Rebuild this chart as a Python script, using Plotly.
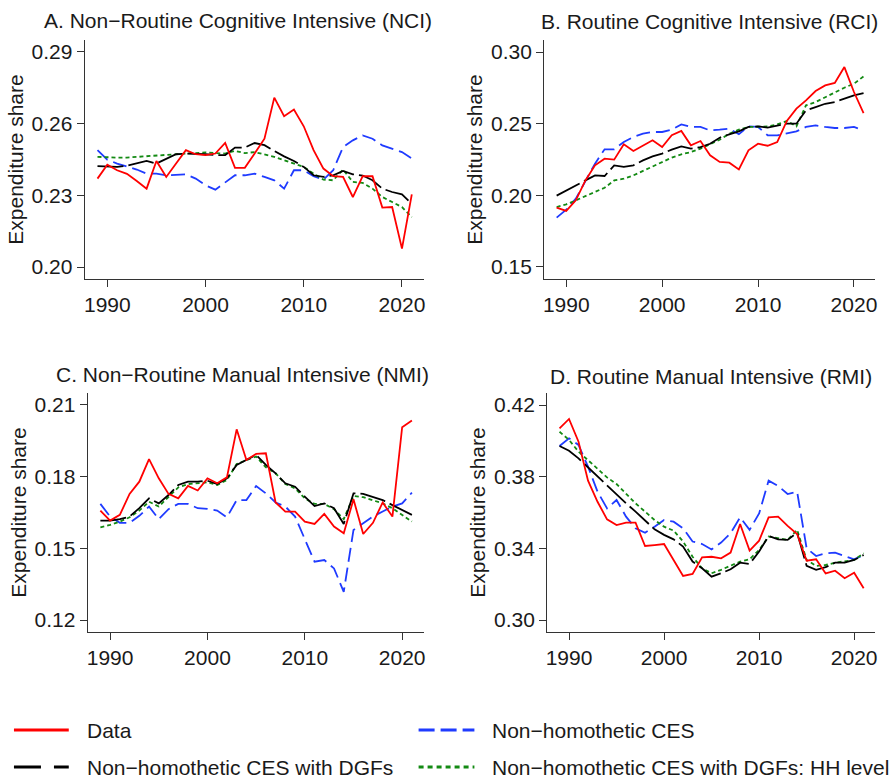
import plotly.graph_objects as go

# ---- years ----
years = list(range(1989, 2022))

# ---- A. NCI ----
nci_data = [0.237, 0.2428, 0.2405, 0.239, 0.236, 0.2328, 0.2444, 0.2377, 0.2433, 0.2489,
            0.2472, 0.2468, 0.2475, 0.2519, 0.2415, 0.2415, 0.2475, 0.2537, 0.2709, 0.2631,
            0.2659, 0.2589, 0.2489, 0.2412, 0.238, 0.2377, 0.2293, 0.238, 0.238, 0.2249,
            0.2251, 0.2077, 0.2304]
nci_ces = [0.2489, 0.2449, 0.2433, 0.2422, 0.2408, 0.2391, 0.2391, 0.2384, 0.2387, 0.2388,
           0.237, 0.2342, 0.2324, 0.2356, 0.2384, 0.2384, 0.2391, 0.2377, 0.2363, 0.2328,
           0.2405, 0.2405, 0.238, 0.2366, 0.2405, 0.2502, 0.253, 0.2551, 0.2537, 0.2509,
           0.2495, 0.2481, 0.2454]
nci_dgf = [0.2422, 0.2419, 0.2419, 0.2424, 0.2433, 0.2444, 0.2433, 0.2454, 0.2472, 0.2475,
           0.2475, 0.2472, 0.2469, 0.2468, 0.25, 0.25, 0.2519, 0.251, 0.2486, 0.2463,
           0.2444, 0.2419, 0.2384, 0.2377, 0.2384, 0.2402, 0.2388, 0.2383, 0.2363, 0.2328,
           0.2314, 0.2304, 0.2265]
nci_hh = [0.2461, 0.2458, 0.2458, 0.2458, 0.2461, 0.2463, 0.2468, 0.2472, 0.2475, 0.2475,
          0.2477, 0.248, 0.2477, 0.2475, 0.2486, 0.2477, 0.2481, 0.2472, 0.2461, 0.2447,
          0.2433, 0.2419, 0.2391, 0.2366, 0.2363, 0.2408, 0.2356, 0.2352, 0.2328, 0.2293,
          0.2272, 0.2251, 0.2209]

# ---- B. RCI ----
rci_data = [0.1914, 0.1891, 0.1965, 0.2104, 0.2209, 0.2256, 0.2249, 0.2356, 0.2309, 0.2349,
            0.2384, 0.2337, 0.2419, 0.2449, 0.2349, 0.2379, 0.2279, 0.2233, 0.2228, 0.2181,
            0.2314, 0.236, 0.2346, 0.2372, 0.2519, 0.2605, 0.2663, 0.2728, 0.2767, 0.2784,
            0.2895, 0.2721, 0.2574]
rci_ces = [0.1844, 0.19, 0.1977, 0.2104, 0.2221, 0.2321, 0.2321, 0.2372, 0.2407, 0.243,
           0.2442, 0.2442, 0.2458, 0.2495, 0.2477, 0.2477, 0.2453, 0.2458, 0.2465, 0.2426,
           0.2481, 0.2477, 0.2419, 0.2419, 0.243, 0.2446, 0.2477, 0.2488, 0.2477, 0.247,
           0.247, 0.2477, 0.2453]
rci_dgf = [0.1998, 0.2035, 0.207, 0.2104, 0.2139, 0.2135, 0.2209, 0.2198, 0.2209, 0.2244,
           0.2272, 0.2291, 0.2319, 0.2342, 0.2326, 0.2337, 0.236, 0.2402, 0.2426, 0.2446,
           0.2477, 0.2481, 0.2472, 0.2488, 0.25, 0.25, 0.2593, 0.2616, 0.2639, 0.2651,
           0.2674, 0.2698, 0.2714]
rci_hh = [0.1918, 0.1937, 0.1965, 0.1993, 0.2023, 0.2053, 0.2104, 0.2116, 0.2139, 0.217,
          0.2202, 0.2233, 0.2263, 0.2286, 0.2302, 0.2326, 0.2356, 0.2388, 0.243, 0.2458,
          0.2477, 0.2477, 0.2481, 0.2495, 0.2519, 0.2481, 0.2628, 0.2651, 0.2686, 0.2721,
          0.2751, 0.2779, 0.283]

# ---- C. NMI ----
nmi_data = [0.1658, 0.1616, 0.164, 0.1728, 0.1779, 0.1873, 0.1793, 0.1728, 0.1709, 0.1761,
            0.1742, 0.1793, 0.1772, 0.1797, 0.1998, 0.187, 0.1895, 0.1898, 0.1692, 0.1654,
            0.1654, 0.1612, 0.1602, 0.1644, 0.1591, 0.1563, 0.1705, 0.156, 0.1607, 0.1692,
            0.1633, 0.2007, 0.2035]
nmi_ces = [0.1686, 0.1633, 0.1607, 0.1607, 0.1636, 0.1675, 0.1622, 0.1664, 0.1686, 0.1686,
           0.1668, 0.1665, 0.1658, 0.163, 0.1702, 0.1702, 0.1761, 0.173, 0.1692, 0.1675,
           0.1633, 0.1535, 0.1444, 0.1451, 0.1416, 0.1318, 0.1577, 0.1605, 0.1633, 0.1654,
           0.1675, 0.1688, 0.1733]
nmi_dgf = [0.1616, 0.1616, 0.1622, 0.1633, 0.1668, 0.1709, 0.1688, 0.1723, 0.1765, 0.1779,
           0.1779, 0.1783, 0.1769, 0.1793, 0.1849, 0.187, 0.1891, 0.1849, 0.1814, 0.1772,
           0.1758, 0.1716, 0.1677, 0.1688, 0.1668, 0.1602, 0.173, 0.1728, 0.1716, 0.1702,
           0.1681, 0.166, 0.164]
nmi_hh = [0.1588, 0.1598, 0.1612, 0.163, 0.1658, 0.1695, 0.1675, 0.1716, 0.1755, 0.1769,
          0.1772, 0.1776, 0.1765, 0.1786, 0.1853, 0.187, 0.1884, 0.1839, 0.1814, 0.1769,
          0.1751, 0.1709, 0.1686, 0.1686, 0.1664, 0.1622, 0.1719, 0.1714, 0.1702, 0.1688,
          0.1668, 0.164, 0.1612]

# ---- D. RMI ----
rmi_data = [0.407, 0.4122, 0.3995, 0.3778, 0.366, 0.3562, 0.353, 0.3543, 0.3543, 0.3413,
            0.3418, 0.3424, 0.3335, 0.3246, 0.3257, 0.335, 0.3353, 0.3344, 0.3376, 0.3536,
            0.3387, 0.3443, 0.3573, 0.3577, 0.3525, 0.348, 0.3331, 0.3339, 0.326, 0.3275,
            0.3233, 0.3264, 0.3177]
rmi_ces = [0.3971, 0.4014, 0.3977, 0.3856, 0.3716, 0.3623, 0.367, 0.3577, 0.3512, 0.3487,
           0.3521, 0.3558, 0.3549, 0.3512, 0.3438, 0.3424, 0.3394, 0.3432, 0.3484, 0.3573,
           0.3503, 0.3595, 0.3778, 0.3748, 0.3703, 0.3716, 0.34, 0.3357, 0.3372, 0.3376,
           0.3357, 0.3339, 0.3363]
rmi_dgf = [0.3971, 0.3945, 0.3902, 0.3852, 0.38, 0.3748, 0.3698, 0.3651, 0.3605, 0.3558,
           0.3506, 0.3475, 0.345, 0.341, 0.3326, 0.3289, 0.3242, 0.3261, 0.3283, 0.332,
           0.3313, 0.3382, 0.3469, 0.345, 0.3447, 0.3487, 0.3302, 0.328, 0.3295, 0.332,
           0.332, 0.3335, 0.3363]
rmi_hh = [0.4051, 0.4005, 0.394, 0.3893, 0.3847, 0.3796, 0.3759, 0.3703, 0.3651, 0.3605,
          0.3558, 0.3521, 0.3499, 0.3438, 0.3353, 0.3289, 0.3261, 0.328, 0.3302, 0.3326,
          0.3339, 0.3391, 0.3466, 0.3456, 0.3447, 0.3503, 0.3335, 0.3302, 0.3307, 0.332,
          0.3326, 0.3335, 0.3372]

# ---- panel titles and ticks ----
titles = [
    "A. Non\u2212Routine Cognitive Intensive (NCI)",
    "B. Routine Cognitive Intensive (RCI)",
    "C. Non\u2212Routine Manual Intensive (NMI)",
    "D. Routine Manual Intensive (RMI)",
]
ytick_vals = [
    [0.20, 0.23, 0.26, 0.29],
    [0.15, 0.20, 0.25, 0.30],
    [0.12, 0.15, 0.18, 0.21],
    [0.30, 0.34, 0.38, 0.42],
]
xtick_vals = [1990, 2000, 2010, 2020]
series_names = ["Data", "Non\u2212homothetic CES", "Non\u2212homothetic CES with DGFs",
                "Non\u2212homothetic CES with DGFs: HH level"]

panels = [
    [nci_data, nci_ces, nci_dgf, nci_hh],
    [rci_data, rci_ces, rci_dgf, rci_hh],
    [nmi_data, nmi_ces, nmi_dgf, nmi_hh],
    [rmi_data, rmi_ces, rmi_dgf, rmi_hh],
]

# ---- styles ----
W, H = 896, 778
FONT = "Liberation Sans, Arial, sans-serif"
FS = 21
TXT = "#1a1a1a"
STYLES = [
    dict(color="#ff0000", dash="solid"),
    dict(color="#1f3bff", dash="14px,6px"),
    dict(color="#000000", dash="26px,5px"),
    dict(color="#138a13", dash="4px,3px"),
]
# pixel boxes of each plot area: (left, right, top, bottom)
boxes = [(84, 424, 40, 279), (545, 877, 40, 279), (87, 424, 393, 632), (548, 877, 393, 632)]
yranges = [[0.195, 0.295], [0.1416, 0.3084], [0.115, 0.215], [0.2933, 0.4267]]
title_pos = [(238, 20), (711, 22), (242, 375), (712, 376)]

fig = go.Figure()

for i, series in enumerate(panels):
    n = "" if i == 0 else str(i + 1)
    # draw order: CES, HH, DGFs, Data on top
    for k in [1, 3, 2, 0]:
        st = STYLES[k]
        fig.add_trace(go.Scatter(
            x=years, y=series[k], mode="lines", name=series_names[k],
            line=dict(color=st["color"], dash=st["dash"], width=1.8),
            xaxis="x" + n, yaxis="y" + n, showlegend=False,
        ))
    l, r, t, b = boxes[i]
    axis_common = dict(
        showline=True, linecolor="#333333", linewidth=1.2, mirror=False,
        ticks="outside", ticklen=7, tickwidth=1.2, tickcolor="#333333",
        showgrid=False, zeroline=False,
        tickfont=dict(family=FONT, size=FS, color=TXT),
    )
    fig.update_layout(**{
        "xaxis" + n: dict(
            domain=[l / W, r / W], anchor="y" + n, range=[1987.7, 2022.2],
            tickvals=xtick_vals, **axis_common,
        ),
        "yaxis" + n: dict(
            domain=[1 - b / H, 1 - t / H], anchor="x" + n, range=yranges[i],
            tickvals=ytick_vals[i], tickformat=".2f",
            title=dict(text="Expenditure share", standoff=2,
                       font=dict(family=FONT, size=FS, color=TXT)),
            **axis_common,
        ),
    })
    tx, ty = title_pos[i]
    fig.add_annotation(
        text=titles[i], x=tx / W, y=1 - ty / H, xref="paper", yref="paper",
        xanchor="center", yanchor="middle", showarrow=False,
        font=dict(family=FONT, size=FS, color=TXT),
    )

# ---- legend drawn at the bottom ----
legend_pos = [(13, 68, 730), (419, 475, 730), (13, 68, 767), (419, 475, 767)]
legend_dash = ["solid", "16px,6px", "27px,13px", "5px,4px"]
for k, (x0, x1, yy) in enumerate(legend_pos):
    fig.add_shape(
        type="line", xref="paper", yref="paper",
        x0=x0 / W, x1=x1 / W, y0=1 - yy / H, y1=1 - yy / H,
        line=dict(color=STYLES[k]["color"], width=3, dash=legend_dash[k]),
    )
    fig.add_annotation(
        text=series_names[k], x=(x1 + 16) / W, y=1 - yy / H, xref="paper", yref="paper",
        xanchor="left", yanchor="middle", showarrow=False,
        font=dict(family=FONT, size=FS, color=TXT),
    )

fig.update_layout(
    width=W, height=H,
    margin=dict(l=0, r=0, t=0, b=0),
    paper_bgcolor="white", plot_bgcolor="white",
    showlegend=False,
)

# page body has a default 8px margin; drop it so the figure fills the window
fig.write_html("out.html", config={"displayModeBar": False},
               post_script="document.body.style.margin='0';")
